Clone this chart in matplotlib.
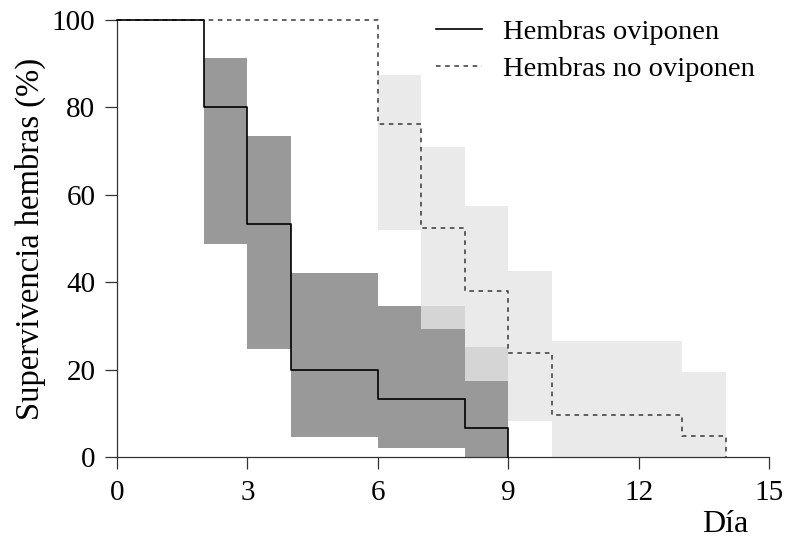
import numpy as np
import matplotlib
matplotlib.use('Agg')
import matplotlib.pyplot as plt

plt.rcParams['font.family'] = ['Liberation Serif', 'DejaVu Serif']

# Kaplan-Meier curves (day, % surviving)
t_ovi = [0, 2, 3, 4, 6, 8, 9]
s_ovi = [100, 80, 53.3, 20, 13.3, 6.7, 0]
t_no = [0, 6, 7, 8, 9, 10, 13, 14]
s_no = [100, 76.2, 52.4, 38.1, 23.8, 9.5, 4.8, 0]

# confidence bands, one block per interval
ci_ovi_start = [2, 3, 4, 6, 8]
ci_ovi_end = [3, 4, 6, 8, 9]
ci_ovi_up = [91.2, 73.4, 42.0, 34.5, 25.2]
ci_ovi_low = [48.8, 24.7, 4.6, 2.1, 0]

ci_no_start = [6, 7, 8, 9, 10, 13]
ci_no_end = [7, 8, 9, 10, 13, 14]
ci_no_up = [87.5, 70.9, 57.4, 42.6, 26.6, 19.5]
ci_no_low = [51.9, 29.4, 17.4, 8.3, 0, 0]

x_ticks = [0, 3, 6, 9, 12, 15]
y_ticks = [0, 20, 40, 60, 80, 100]

fig = plt.figure(figsize=(7.88, 5.41), dpi=100)
ax = fig.add_axes([117 / 788, 1 - 457 / 541, (769 - 117) / 788, (457 - 20) / 541])

w = np.array(ci_ovi_end) - np.array(ci_ovi_start)
h = np.array(ci_ovi_up) - np.array(ci_ovi_low)
ax.bar(ci_ovi_start, h, width=w, bottom=ci_ovi_low, align='edge',
       color='#999999', linewidth=0, zorder=1)

w = np.array(ci_no_end) - np.array(ci_no_start)
h = np.array(ci_no_up) - np.array(ci_no_low)
ax.bar(ci_no_start, h, width=w, bottom=ci_no_low, align='edge',
       color='#e5e5e5', alpha=0.8, linewidth=0, zorder=2)

ax.step(t_no, s_no, where='post', color='#383838', linewidth=1.1,
        linestyle=(0, (3, 3)), label='Hembras no oviponen', zorder=3, clip_on=False)
ax.step(t_ovi, s_ovi, where='post', color='black', linewidth=1.2,
        label='Hembras oviponen', zorder=4, clip_on=False)

ax.set_xlim(0, 15)
ax.set_ylim(0, 100)
ax.set_xticks(x_ticks)
ax.set_yticks(y_ticks)

for side in ['top', 'right']:
    ax.spines[side].set_visible(False)
for side in ['left', 'bottom']:
    ax.spines[side].set_linewidth(0.9)
    ax.spines[side].set_color('#333333')
ax.tick_params(direction='out', length=8.5, width=0.9, color='#333333',
               labelsize=21)
ax.tick_params(axis='x', pad=8)
ax.tick_params(axis='y', pad=7)

ax.set_ylabel('Supervivencia hembras (%)', fontsize=23.5, labelpad=4)
fig.text(748 / 788, 1 - 539 / 541, 'Día', fontsize=23, ha='right', va='bottom')

handles, labels = ax.get_legend_handles_labels()
ax.legend(handles[::-1], labels[::-1], loc='upper left',
          bbox_to_anchor=(436 / 788, 0.965), bbox_transform=fig.transFigure,
          frameon=False, fontsize=20.5, handlelength=1.6, handletextpad=0.75,
          borderpad=0, borderaxespad=0, labelspacing=0.4)

fig.savefig('out.png', dpi=100)
